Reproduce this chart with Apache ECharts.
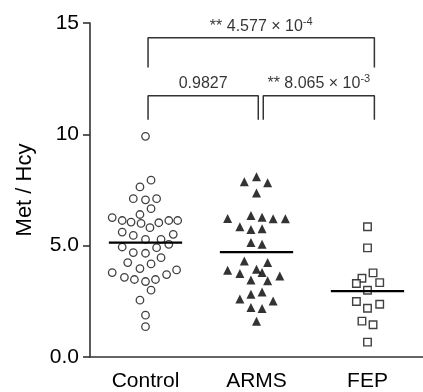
<!DOCTYPE html>
<html>
<head>
<meta charset="utf-8">
<script src="https://cdn.jsdelivr.net/npm/echarts@6/dist/echarts.min.js"></script>
<style>
  html, body { margin: 0; padding: 0; background: #fff; }
  #chart { width: 423px; height: 392px; }
</style>
</head>
<body>
<div id="chart"></div>
<script>
// groups and y tick labels
const groups = ['Control', 'ARMS', 'FEP']
const yTickLabels = ['0.0', '5.0', '10', '15']

// each point: [horizontal jitter (fraction of a category), Met/Hcy]
const controlPts = [
  [0, 9.91], [0.05, 7.94], [-0.05, 7.64], [-0.11, 7.11], [0, 7.06], [0.1, 7.11],
  [0.05, 6.66], [-0.05, 6.40], [-0.3, 6.26], [-0.21, 6.13], [-0.13, 6.06], [-0.04, 6.00],
  [0.12, 6.03], [0.21, 6.13], [0.29, 6.13], [0.04, 5.81], [-0.21, 5.61], [-0.11, 5.46],
  [0.25, 5.51], [0, 5.28], [0.14, 5.28], [-0.21, 4.94], [0.1, 4.91], [0.21, 5.06],
  [-0.11, 4.69], [0, 4.66], [0.14, 4.46], [-0.16, 4.24], [0.05, 4.18], [-0.05, 3.97],
  [-0.3, 3.79], [-0.19, 3.58], [-0.1, 3.48], [0, 3.39], [0.09, 3.48], [0.19, 3.70],
  [0.28, 3.91], [0.05, 3.00], [-0.05, 2.55], [0, 1.88], [0, 1.36]
]
const armsPts = [
  [-0.11, 7.87], [0, 8.09], [0.1, 7.82], [0, 7.37], [-0.26, 6.22], [-0.05, 6.36],
  [0.05, 6.28], [0.15, 6.21], [0.26, 6.21], [-0.15, 5.85], [-0.05, 5.73], [0.05, 5.76],
  [-0.05, 5.14], [0.05, 5.06], [-0.11, 4.31], [0.1, 4.24], [-0.26, 3.90], [-0.15, 3.75],
  [0, 3.94], [0.05, 3.79], [-0.05, 3.46], [0.1, 3.42], [0.21, 3.64], [-0.15, 2.60],
  [-0.05, 2.82], [0.05, 2.92], [0.15, 2.52], [-0.05, 2.22], [0.05, 2.18], [0, 1.60]
]
const fepPts = [
  [0, 5.85], [0, 4.90], [0.05, 3.78], [-0.05, 3.54], [-0.1, 3.30], [0.11, 3.34],
  [0, 3.00], [-0.1, 2.49], [0.11, 2.37], [0, 2.19], [-0.05, 1.61], [0.05, 1.45], [0, 0.67]
]

// comparison brackets: [x left, x right, y top, y leg end] in data units, and p-value text
const brackets = [
  [0.523, 2.562, 14.34, 13.0],
  [0.523, 1.516, 11.73, 10.66],
  [1.561, 2.562, 11.73, 10.66]
]
const bracketText = [
  '{b|** 4.577 × 10}{s|-4}',
  '{b|0.9827}',
  '{b|** 8.065 × 10}{s|-3}'
]
const bracketTextY = [14.88, 12.32, 12.32]

const meanHalf = 0.33
const mean = arr => arr.reduce((s, p) => s + p[1], 0) / arr.length
const place = (arr, i) => arr.map(p => [i + 0.5 + p[0], p[1]])

const chart = echarts.init(document.getElementById('chart'))

const series = []
const markStyles = [
  { symbol: 'circle', symbolSize: 7.5, itemStyle: { color: '#fff', borderColor: '#111', borderWidth: 1.3 } },
  { symbol: 'triangle', symbolSize: 9, itemStyle: { color: '#000', borderWidth: 0 } },
  { symbol: 'rect', symbolSize: 7.5, itemStyle: { color: '#fff', borderColor: '#111', borderWidth: 1.4 } }
]
;[controlPts, armsPts, fepPts].forEach((pts, i) => {
  series.push(Object.assign({
    type: 'scatter',
    xAxisIndex: 1,
    data: place(pts, i),
    silent: true,
    z: 3
  }, markStyles[i]))
  const m = mean(pts)
  series.push({
    type: 'line',
    xAxisIndex: 1,
    data: [[i + 0.5 - meanHalf, m], [i + 0.5 + meanHalf, m]],
    symbol: 'none',
    lineStyle: { color: '#000', width: 2.2 },
    silent: true,
    z: 4
  })
})

brackets.forEach((b, i) => {
  series.push({
    type: 'line',
    xAxisIndex: 1,
    data: [[b[0], b[3]], [b[0], b[2]], [b[1], b[2]], [b[1], b[3]]],
    symbol: 'none',
    lineStyle: { color: '#333', width: 1.5 },
    silent: true
  })
  series.push({
    type: 'scatter',
    xAxisIndex: 1,
    data: [[(b[0] + b[1]) / 2, bracketTextY[i]]],
    symbolSize: 0,
    silent: true,
    label: {
      show: true,
      position: 'inside',
      formatter: bracketText[i],
      rich: {
        b: { fontSize: 16, color: '#000', fontFamily: 'Liberation Sans', lineHeight: 18, verticalAlign: 'bottom' },
        s: { fontSize: 11, color: '#000', fontFamily: 'Liberation Sans', lineHeight: 11, verticalAlign: 'top' }
      }
    }
  })
})

chart.setOption({
  animation: false,
  backgroundColor: '#fff',
  textStyle: { fontFamily: 'Liberation Sans' },
  grid: { left: 90, top: 23, width: 334.5, height: 335 },
  xAxis: [
    {
      type: 'category',
      data: groups,
      boundaryGap: true,
      axisLine: { lineStyle: { color: '#333', width: 1.6 } },
      axisTick: { alignWithLabel: true, length: 7, lineStyle: { color: '#333', width: 1.6 } },
      axisLabel: { color: '#000', fontSize: 21, margin: 14 },
      splitLine: { show: false }
    },
    {
      type: 'value',
      min: 0,
      max: 3,
      show: false
    }
  ],
  yAxis: {
    type: 'value',
    min: 0,
    max: 15,
    interval: 5,
    name: 'Met / Hcy',
    nameLocation: 'middle',
    nameGap: 54,
    nameTextStyle: { fontSize: 22, color: '#000' },
    axisLine: { show: true, lineStyle: { color: '#333', width: 1.6 } },
    axisTick: { show: true, length: 7, lineStyle: { color: '#333', width: 1.6 } },
    axisLabel: { color: '#000', fontSize: 21, margin: 11, formatter: (v, idx) => yTickLabels[idx] },
    splitLine: { show: false }
  },
  series: series
})
</script>
</body>
</html>
